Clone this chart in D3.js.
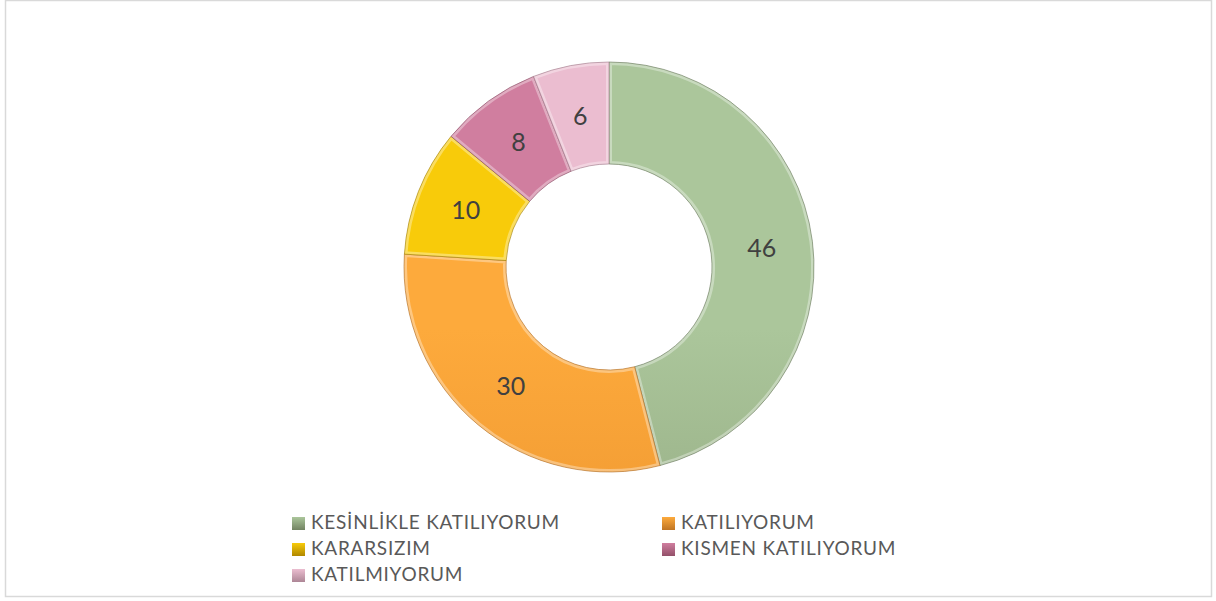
<!DOCTYPE html>
<html>
  <head>
    <meta charset="UTF-8" />
    <script src="https://cdnjs.cloudflare.com/ajax/libs/d3/7.8.5/d3.min.js"></script>
    <style>
      body { margin: 0; background: #fff; }
      text { font-family: Lato, "Open Sans", sans-serif; }
      .label { font-size: 25px; fill: #404040; }
      .legend text { font-size: 19px; fill: #595959; letter-spacing: 0.75px; }
    </style>
  </head>
  <body>
    <svg id="chart" width="1216" height="601"></svg>
    <script>
      var categories = ["KESİNLİKLE KATILIYORUM", "KATILIYORUM", "KARARSIZIM", "KISMEN KATILIYORUM", "KATILMIYORUM"];
      var values = [46, 30, 10, 8, 6];
      var lightColors = ["#abc69b", "#fdaa3c", "#f8cb0a", "#d07e9f", "#ebbdd0"];
      var darkColors = ["#889c75", "#e68c2a", "#d2a300", "#b0607e", "#cfa0b3"];

      var svg = d3.select("#chart");
      var cx = 609, cy = 267, outerR = 205, innerR = 103;

      // chart frame
      svg.append("rect")
        .attr("x", 5.5).attr("y", 0.5)
        .attr("width", 1206).attr("height", 596)
        .attr("fill", "#fff")
        .attr("stroke", "#d9d9d9")
        .attr("stroke-width", 1.5);

      var defs = svg.append("defs");
      categories.forEach(function(c, i) {
        var g = defs.append("linearGradient")
          .attr("id", "grad" + i)
          .attr("gradientUnits", "userSpaceOnUse")
          .attr("x1", 0).attr("y1", cy - outerR)
          .attr("x2", 0).attr("y2", cy + outerR);
        g.append("stop").attr("offset", "0%").attr("stop-color", lightColors[i]);
        g.append("stop").attr("offset", "100%").attr("stop-color", darkColors[i]);
      });

      var pie = d3.pie().sort(null).value(function(d) { return d; });
      var arcs = pie(values);
      var arc = d3.arc().innerRadius(innerR).outerRadius(outerR);

      var g = svg.append("g").attr("transform", "translate(" + cx + "," + cy + ")");

      arcs.forEach(function(d, i) {
        defs.append("clipPath").attr("id", "clip" + i)
          .append("path").attr("d", arc(d));
      });

      var slices = g.selectAll("g.slice")
        .data(arcs)
        .enter()
        .append("g")
        .attr("class", "slice");

      slices.append("path")
        .attr("d", arc)
        .attr("fill", function(d, i) { return "url(#grad" + i + ")"; });

      // soft bevel: light inner rim, clipped to the slice
      slices.append("path")
        .attr("d", arc)
        .attr("clip-path", function(d, i) { return "url(#clip" + i + ")"; })
        .attr("fill", "none")
        .attr("stroke", "#ffffff")
        .attr("stroke-opacity", 0.35)
        .attr("stroke-width", 6);

      slices.append("path")
        .attr("d", arc)
        .attr("fill", "none")
        .attr("stroke", function(d, i) { return d3.rgb(darkColors[i]).darker(0.8); })
        .attr("stroke-opacity", 0.6)
        .attr("stroke-width", 1);

      g.selectAll("text.label")
        .data(arcs)
        .enter()
        .append("text")
        .attr("class", "label")
        .attr("text-anchor", "middle")
        .attr("dy", "0.36em")
        .attr("x", function(d) { return arc.centroid(d)[0]; })
        .attr("y", function(d) { return arc.centroid(d)[1]; })
        .text(function(d) { return d.data; });

      // legend, two columns
      var colX = d3.scaleOrdinal().domain([0, 1]).range([292, 662]);
      var rowY = d3.scaleLinear().domain([0, 1]).range([523, 549]);

      var legend = svg.append("g").attr("class", "legend");
      var items = legend.selectAll("g")
        .data(categories)
        .enter()
        .append("g")
        .attr("transform", function(d, i) {
          return "translate(" + colX(i % 2) + "," + rowY(Math.floor(i / 2)) + ")";
        });

      categories.forEach(function(c, i) {
        var lg = defs.append("linearGradient")
          .attr("id", "lgrad" + i)
          .attr("x1", 0).attr("y1", 0).attr("x2", 0).attr("y2", 1);
        lg.append("stop").attr("offset", "0%").attr("stop-color", lightColors[i]);
        lg.append("stop").attr("offset", "100%").attr("stop-color", d3.rgb(darkColors[i]).darker(0.5));
      });

      items.append("rect")
        .attr("x", 0).attr("y", -6)
        .attr("width", 13).attr("height", 13)
        .attr("fill", function(d, i) { return "url(#lgrad" + i + ")"; });

      items.append("text")
        .attr("x", 19)
        .attr("y", 6)
        .text(function(d) { return d; });
    </script>
  </body>
</html>
